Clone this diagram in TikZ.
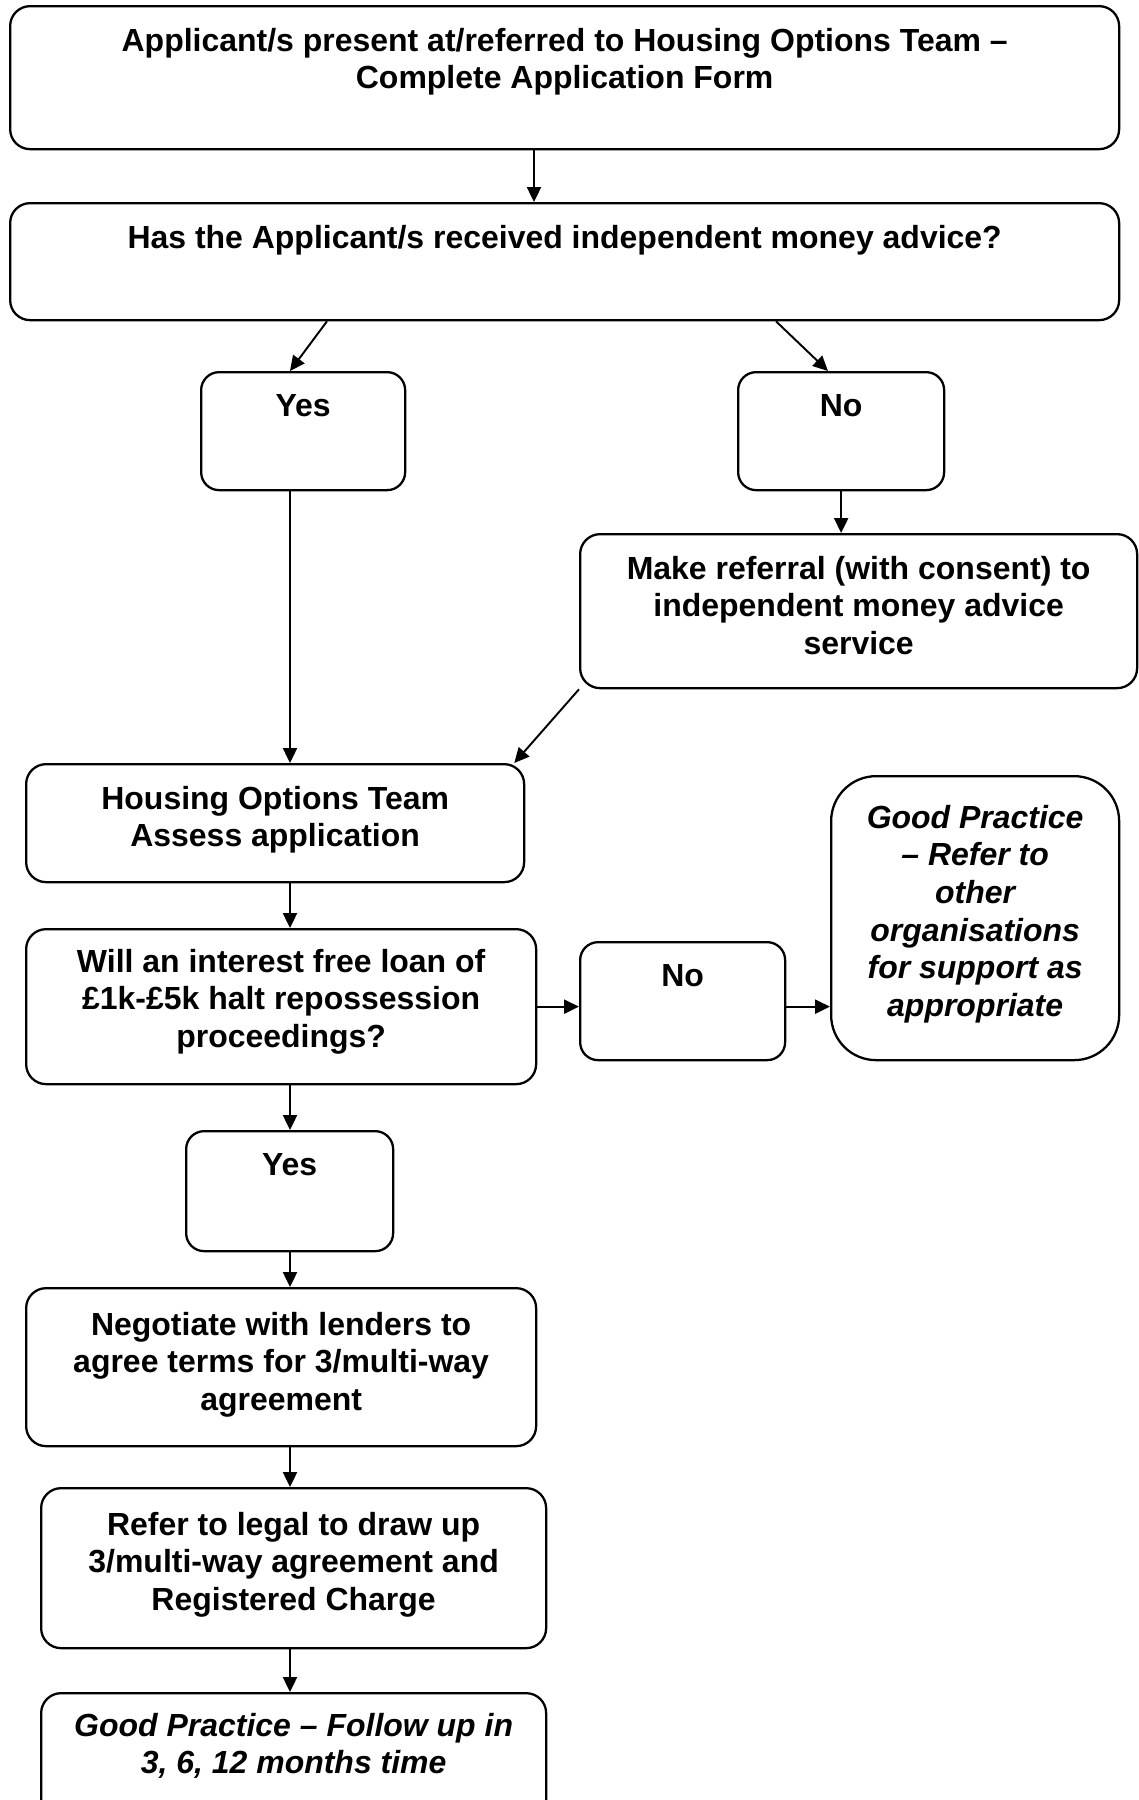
\documentclass[tikz,border=0pt]{standalone}
\usepackage{fontspec}
\setmainfont{Liberation Sans}
\usetikzlibrary{arrows.meta,calc}
\newlength\pxu
\setlength\pxu{0.02cm}
% text hung from the top of a box: width, height, top gap, text
\newcommand\boxtext[4]{\parbox[t][#2\pxu][t]{#1\pxu}{\centering\vspace*{#3\pxu}#4\par}}
\tikzset{
	stage/.style={draw,line width=1.3pt,rounded corners=0.4cm,inner sep=0pt,anchor=north west,
		font=\bfseries\fontsize{18.2}{21.4}\selectfont},
	answer/.style={stage,rounded corners=0.36cm},
	advice/.style={stage,font=\bfseries\itshape\fontsize{18.2}{21.4}\selectfont}
}
\begin{document}
\begin{tikzpicture}[x=0.02cm,y=-0.02cm,>={Triangle[length=8.5pt,width=8pt]},line width=1.1pt]
		\useasboundingbox (0,0) rectangle (1139,1800);
		\clip (0,0) rectangle (1139,1800);
		\coordinate (top) at (534,0);
		\coordinate (spine) at (290,0);
		% boxes
		\node[stage] (app) at (9,5) {\boxtext{1109}{143}{22}{Applicant/s present at/referred to Housing Options Team --\\Complete Application Form}};
		\node[stage] (adv) at (9,202) {\boxtext{1109}{117}{22}{Has the Applicant/s received independent money advice?}};
		\node[answer] (yesA) at (200,371) {\boxtext{204}{118}{22}{Yes}};
		\node[answer] (noA) at (737,371) {\boxtext{206}{118}{22}{No}};
		\node[stage] (refl) at (579,533) {\boxtext{557}{154}{22}{Make referral (with consent) to\\independent money advice\\service}};
		\node[stage] (house) at (25,763) {\boxtext{498}{118}{22}{Housing Options Team\\Assess application}};
		\node[stage] (will) at (25,928) {\boxtext{510}{155}{20}{Will an interest free loan of\\£1k-£5k halt repossession\\proceedings?}};
		\node[answer] (noB) at (579,941) {\boxtext{205}{118}{22}{No}};
		\node[advice,rounded corners=0.9cm] (gpA) at (830,775) {\boxtext{288}{284}{29}{Good Practice\\-- Refer to\\other\\organisations\\for support as\\appropriate}};
		\node[answer] (yesB) at (185,1130) {\boxtext{207}{120}{22}{Yes}};
		\node[stage] (nego) at (25,1287) {\boxtext{510}{158}{24}{Negotiate with lenders to\\agree terms for 3/multi-way\\agreement}};
		\node[stage] (legal) at (40,1487) {\boxtext{505}{160}{24}{Refer to legal to draw up\\3/multi-way agreement and\\Registered Charge}};
		\node[advice] (gpB) at (40,1692) {\boxtext{505}{150}{20}{Good Practice -- Follow up in\\3, 6, 12 months time}};
		% connectors
		\draw[->] (app.south -| top) -- (adv.north -| top);
		\draw[->] ($(adv.south west)+(318,0)$) -- ($(yesA.north west)+(90,0)$);
		\draw[->] ($(adv.south west)+(767,0)$) -- ($(noA.north west)+(91,0)$);
		\draw[->] (yesA.south -| spine) -- (house.north -| spine);
		\draw[->] (noA.south) -- (refl.north -| noA.south);
		\draw[->] (refl.south west) -- ($(house.north east)+(-11,0)$);
		\draw[->] (house.south -| spine) -- (will.north -| spine);
		\draw[->] (will.east) -- (will.east -| noB.west);
		\draw[->] (will.east -| noB.east) -- (will.east -| gpA.west);
		\draw[->] (will.south -| spine) -- (yesB.north -| spine);
		\draw[->] (yesB.south -| spine) -- (nego.north -| spine);
		\draw[->] (nego.south -| spine) -- (legal.north -| spine);
		\draw[->] (legal.south -| spine) -- (gpB.north -| spine);
	\end{tikzpicture}
\end{document}
